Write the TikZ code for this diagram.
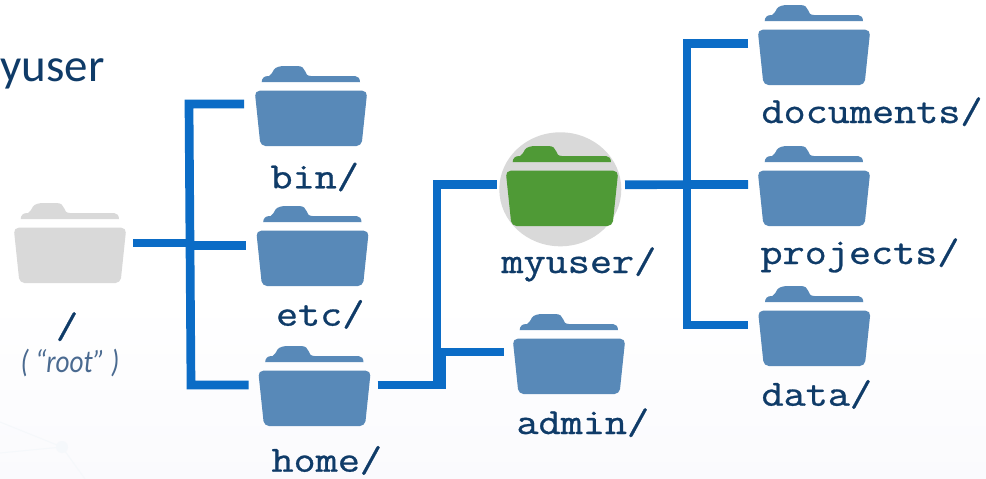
\documentclass[tikz,border=0pt]{standalone}
\usepackage{fontspec}
\usepackage{graphicx}
\newfontfamily\titlefont{Carlito}
\newfontfamily\labelfont[FakeBold=0.7]{Latin Modern Mono}
\definecolor{folderblue}{HTML}{5889B8}
\definecolor{foldergray}{HTML}{D9D9D9}
\definecolor{foldergreen}{HTML}{4F9A36}
\definecolor{connblue}{HTML}{0B6CC6}
\definecolor{navy}{HTML}{0F3B68}
\definecolor{rootink}{HTML}{4A6A90}
\definecolor{bgbottom}{HTML}{FAFAFD}
\definecolor{bgline}{HTML}{F5F8FB}
\newcommand{\monolabel}[1]{\scalebox{1.16}[1]{\fontsize{37}{37}\selectfont\labelfont #1}}
\newcommand{\fld}[4]{%
  \begin{scope}[shift={(#2,#3)}]
    \fill[#4] (6.7,16.2) .. controls (6.7,12.5) and (9,10) .. (13,10) -- (14,10)
      .. controls (17,9) and (17,6) .. (19,3.5) .. controls (21,1) and (25,0) .. (30,0) -- (42,0)
      .. controls (47,0) and (49,2) .. (50,5) .. controls (51,8) and (52,10) .. (56,10) -- (100,10)
      .. controls (103,10) and (105,12.5) .. (105,16.2) -- cycle;
    \fill[#4,rounded corners=5pt] (-0.3,24.7) -- (112.3,24.7) -- (106.5,80) -- (5.5,80) -- cycle;
    \node[folderbox] (#1) at (56,40) {};
  \end{scope}}
\tikzset{
  x=1pt,y=-1pt,
  folderbox/.style={rectangle,minimum width=112pt,minimum height=80pt,inner sep=0pt,outer sep=0pt},
  conn/.style={draw=connblue,line width=8.7pt,line join=miter,line cap=butt},
  lbl/.style={anchor=base west,inner sep=0pt,outer sep=0pt,text=navy},
}
\begin{document}
\begin{tikzpicture}
\useasboundingbox (0,0) rectangle (986,479);
\fill[white] (0,0) rectangle (986,479);
\shade[top color=white,bottom color=bgbottom] (0,300) rectangle (986,479);
\draw[bgline,line width=1pt] (0,422) -- (62,447) -- (0,453) (62,447) -- (85,479);
\fill[bgline] (62,447) circle (6);

\node[lbl,text=navy,font=\titlefont\fontsize{47}{47}\selectfont] (title) at (0.6,81) {yuser};

\fill[foldergray] (560.3,189.3) ellipse (61 and 57);

\fld{rootf}{14}{203}{foldergray}
\fld{bin}{255}{66}{folderblue}
\fld{etc}{256.5}{206}{folderblue}
\fld{home}{258.5}{346}{folderblue}
\fld{myuser}{506}{146}{foldergreen}
\fld{admin}{513}{314}{folderblue}
\fld{documents}{758}{5}{folderblue}
\fld{projects}{758}{146}{folderblue}
\fld{data}{758.3}{286}{folderblue}

\coordinate (rootP) at ([shift={(7,0)}]rootf.east);
\coordinate (binP) at ([shift={(-11,-2)}]bin.west);
\coordinate (etcP) at ([shift={(-10.5,-0.5)}]etc.west);
\coordinate (homeP) at ([shift={(-10,-1)}]home.west);
\coordinate (homeQ) at ([shift={(7,-1)}]home.east);
\coordinate (myuserP) at ([shift={(-9.3,-1.3)}]myuser.west);
\coordinate (myuserQ) at ([shift={(7,-1.3)}]myuser.east);
\coordinate (adminP) at ([shift={(-9,-2)}]admin.west);
\coordinate (documentsP) at ([shift={(-10,-1.3)}]documents.west);
\coordinate (projectsP) at ([shift={(-10,-1.5)}]projects.west);
\coordinate (dataP) at ([shift={(-10.3,-1)}]data.west);

\coordinate (leftTop) at (189,104);
\coordinate (leftBot) at (191,385);
\coordinate (leftA) at (190,243);
\coordinate (leftB) at (190,245.5);
\coordinate (midTop) at (437,184.7);
\coordinate (midAdmin) at (437,352);
\coordinate (midHomeTop) at (439.35,352);
\coordinate (midHomeBot) at (439.35,389.35);
\coordinate (midHome) at (445.7,385);
\coordinate (rightTop) at (687,43.7);
\coordinate (rightBot) at (687,325);

\draw[conn] (binP) -- (leftTop) -- (leftBot) -- (homeP);
\draw[conn] (rootP) -- (leftA);
\draw[conn] (leftB) -- (etcP);
\draw[conn] (myuserP) -- (midTop) -- (midAdmin) -- (adminP);
\draw[conn,line width=12.7pt] (midHomeTop) -- (midHomeBot);
\draw[conn] (homeQ) -- (midHome);
\draw[conn] (documentsP) -- (rightTop) -- (rightBot) -- (dataP);
\draw[conn] (myuserQ) -- (projectsP);

\node[lbl] (lbin) at (270.5,188.3) {\monolabel{bin/}};
\node[lbl] (letc) at (276,325.7) {\monolabel{etc/}};
\node[lbl] (lhome) at (271.5,471.7) {\monolabel{home/}};
\node[lbl] (lroot) at (56,338) {\monolabel{/}};
\node[text=rootink,inner sep=0pt,font=\titlefont\itshape\fontsize{32}{32}\selectfont] (lrootname) at (70,363) {\scalebox{0.85}[1]{( “root” )}};
\node[lbl] (lmyuser) at (501.5,273) {\monolabel{myuser/}};
\node[lbl] (ladmin) at (516.5,434) {\monolabel{admin/}};
\node[lbl] (ldocuments) at (761.5,123) {\monolabel{documents/}};
\node[lbl] (lprojects) at (760.5,264) {\monolabel{projects/}};
\node[lbl] (ldata) at (761.5,405.7) {\monolabel{data/}};
\end{tikzpicture}
\end{document}
